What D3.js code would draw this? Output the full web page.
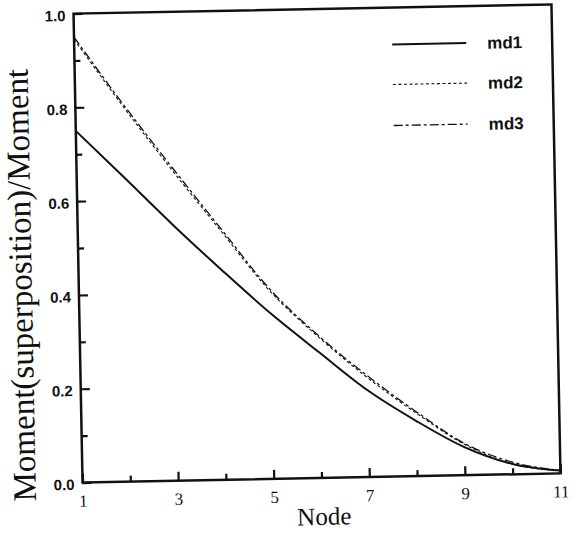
<!DOCTYPE html>
<html>
<head>
<meta charset="utf-8">
<script src="https://cdn.jsdelivr.net/npm/d3@7/dist/d3.min.js"></script>
<style>
  html, body { margin: 0; padding: 0; background: #fff; }
  svg { display: block; }
</style>
</head>
<body>
<svg id="chart" width="578" height="537"></svg>
<script>
// ---- data ----
const nodes = [1, 2, 3, 4, 5, 6, 7, 8, 9, 10, 11];
const md1 = [0.750, 0.648, 0.545, 0.447, 0.353, 0.268, 0.185, 0.118, 0.060, 0.022, 0.006];
const md2 = [0.945, 0.800, 0.662, 0.530, 0.400, 0.300, 0.212, 0.135, 0.066, 0.022, 0.006];
const md3 = [0.950, 0.805, 0.668, 0.535, 0.404, 0.303, 0.216, 0.138, 0.068, 0.026, 0.006];
const seriesNames = ["md1", "md2", "md3"];
const xTickLabels = [1, 3, 5, 7, 9, 11];
const xMinorTicks = [2, 4, 6, 8, 10];
const yTickLabels = ["0.0", "0.2", "0.4", "0.6", "0.8", "1.0"];
const yMinorTicks = [0.1, 0.3, 0.5, 0.7, 0.9];

// ---- layout ----
const L = 78, T = 9, W = 478, H = 469;
const svg = d3.select("#chart");
const root = svg.append("g")
  .attr("transform", `rotate(-1.1, ${L + W / 2}, ${T + H / 2})`);
const g = root.append("g").attr("transform", `translate(${L},${T})`);

const x = d3.scaleLinear().domain([1, 11]).range([0, W]);
const y = d3.scaleLinear().domain([0, 1]).range([H, 0]);

const ink = "#111";

// series lines
const line = d3.line().x((d, i) => x(nodes[i])).y(d => y(d)).curve(d3.curveMonotoneX);
const styles = [
  { data: md1, width: 2.0, dash: null },
  { data: md2, width: 1.1, dash: "3,2.5" },
  { data: md3, width: 1.3, dash: "9,3,3,3" }
];
styles.forEach(s => {
  g.append("path").datum(s.data)
    .attr("d", line)
    .attr("fill", "none")
    .attr("stroke", ink)
    .attr("stroke-width", s.width)
    .attr("stroke-dasharray", s.dash);
});

// axes (ticks inward)
const xAxisMajor = d3.axisBottom(x).tickValues(xTickLabels).tickSize(-9).tickFormat(d3.format("d")).tickPadding(12);
const xAxisMinor = d3.axisBottom(x).tickValues(xMinorTicks).tickSize(-6).tickFormat("");
const yAxisMajor = d3.axisLeft(y).tickValues([0, 0.2, 0.4, 0.6, 0.8, 1.0]).tickSize(-9)
  .tickFormat((d, i) => yTickLabels[i]).tickPadding(8);
const yAxisMinor = d3.axisLeft(y).tickValues(yMinorTicks).tickSize(-6).tickFormat("");

function styleAxis(sel) {
  sel.select(".domain").remove();
  sel.selectAll(".tick line").attr("stroke", ink).attr("stroke-width", 2.2);
}
g.append("g").attr("transform", `translate(0,${H})`).call(xAxisMajor).call(styleAxis)
  .selectAll("text").attr("font-family", "'Liberation Serif', 'Times New Roman', serif")
  .attr("font-size", 17).attr("fill", ink);
g.append("g").attr("transform", `translate(0,${H})`).call(xAxisMinor).call(styleAxis);
g.append("g").call(yAxisMajor).call(styleAxis)
  .selectAll("text").attr("font-family", "'Liberation Sans', Arial, sans-serif")
  .attr("font-size", 15).attr("font-weight", "bold").attr("fill", ink).attr("dy", "0.45em");
g.append("g").call(yAxisMinor).call(styleAxis);

// frame
g.append("rect").attr("x", 0).attr("y", 0).attr("width", W).attr("height", H)
  .attr("fill", "none").attr("stroke", ink).attr("stroke-width", 2.5);

// legend
const legend = g.append("g");
const legY = [37, 77, 118];
seriesNames.forEach((name, i) => {
  legend.append("line")
    .attr("x1", 318).attr("x2", 392)
    .attr("y1", legY[i]).attr("y2", legY[i])
    .attr("stroke", ink)
    .attr("stroke-width", styles[i].width)
    .attr("stroke-dasharray", styles[i].dash);
  legend.append("text")
    .attr("x", 413).attr("y", legY[i] + 6)
    .attr("font-family", "'Liberation Sans', Arial, sans-serif")
    .attr("font-size", 17).attr("font-weight", "bold").attr("fill", ink)
    .text(name);
});

// axis titles
g.append("text")
  .attr("x", W / 2 + 2).attr("y", H + 47)
  .attr("text-anchor", "middle")
  .attr("font-family", "'Liberation Serif', 'Times New Roman', serif")
  .attr("font-size", 25).attr("fill", ink)
  .text("Node");
g.append("text")
  .attr("transform", `translate(${-47},${H / 2 + 36}) rotate(-90)`)
  .attr("text-anchor", "middle")
  .attr("font-family", "'Liberation Serif', 'Times New Roman', serif")
  .attr("font-size", 33).attr("fill", ink)
  .text("Moment(superposition)/Moment");
</script>
</body>
</html>
